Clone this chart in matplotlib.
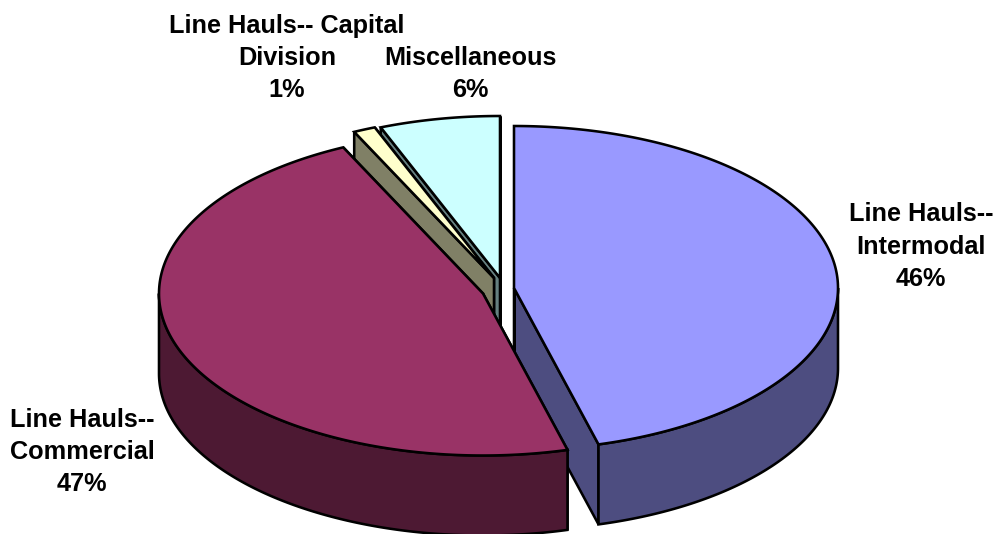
import numpy as np
import matplotlib
matplotlib.use("Agg")
import matplotlib.pyplot as plt
from matplotlib.patches import Polygon

plt.rcParams['font.family'] = ['Liberation Sans', 'DejaVu Sans']

# ---- data ----
categories = ["Line Hauls--\nIntermodal", "Line Hauls--\nCommercial",
              "Line Hauls-- Capital\nDivision", "Miscellaneous"]
shares = [45.8, 47.1, 1.1, 6.0]

# ---- style / layout ----
top_colors = ["#9999FF", "#993366", "#FFFFCC", "#CCFFFF"]
side_colors = ["#4D4D80", "#4D1933", "#808066", "#668080"]
centers = [(514, 288), (483, 293.5), (494, 278), (500, 278)]
label_pos = [(921, 246.5), (82, 452), (287, 58), (470.5, 74)]
RX, RY, DEPTH = 324, 162, 80
LW = 1.85

fig = plt.figure(figsize=(9.99, 5.34), dpi=100)
ax = fig.add_axes([0, 0, 1, 1])
ax.set_xlim(0, 999)
ax.set_ylim(534, 0)
ax.axis("off")


def rim(c, a0, a1, dy=0.0):
    t = np.radians(np.linspace(a0, a1, max(int(abs(a1 - a0) * 2), 2)))
    return np.column_stack([c[0] + RX * np.sin(t), c[1] - RY * np.cos(t) + dy])


def poly(pts, color, z):
    ax.add_patch(Polygon(pts, closed=True, facecolor=color, edgecolor="black",
                         linewidth=LW, joinstyle="miter", zorder=z))


edges = np.concatenate([[0], np.cumsum(shares)]) * 360.0 / sum(shares)
# draw far slices first, near slices last
order = [3, 2, 0, 1]
z = 1
for i in order:
    a0, a1 = edges[i], edges[i + 1]
    c = np.array(centers[i], dtype=float)
    down = np.array([0, DEPTH])
    # cut faces: trailing one first so the leading (left) one lies on top
    for a in (a1, a0):
        p = rim(c, a, a + 0.01)[0]
        poly([c, p, p + down, c + down], side_colors[i], z)
        z += 1
    # outer wall: only the part of the rim facing the viewer (90..270 deg)
    w0, w1 = max(a0, 90), min(a1, 270)
    if w1 > w0:
        poly(np.vstack([rim(c, w0, w1), rim(c, w1, w0, DEPTH)]), side_colors[i], z)
        z += 1
    # top face
    poly(np.vstack([[c], rim(c, a0, a1)]), top_colors[i], z)
    z += 1

for cat, val, (x, y) in zip(categories, shares, label_pos):
    ax.text(x, y, f"{cat}\n{val:.0f}%", ha="center", va="center", multialignment="center",
            fontsize=18.2, fontweight="bold", color="black", linespacing=1.44, zorder=100)

fig.savefig("out.png", dpi=100, facecolor="white")
